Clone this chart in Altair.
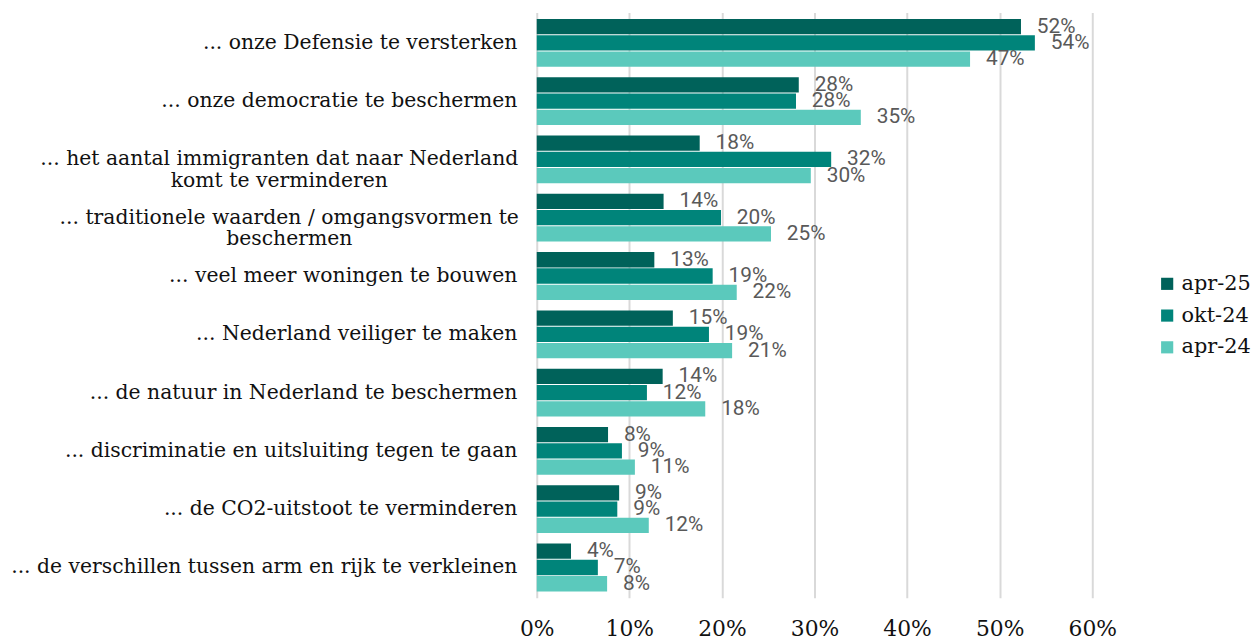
import altair as alt
import pandas as pd

categories = [
    "... onze Defensie te versterken",
    "... onze democratie te beschermen",
    "... het aantal immigranten dat naar Nederland|komt te verminderen",
    "... traditionele waarden / omgangsvormen te|beschermen",
    "... veel meer woningen te bouwen",
    "... Nederland veiliger te maken",
    "... de natuur in Nederland te beschermen",
    "... discriminatie en uitsluiting tegen te gaan",
    "... de CO2-uitstoot te verminderen",
    "... de verschillen tussen arm en rijk te verkleinen",
]
series = ["apr-25", "okt-24", "apr-24"]
apr25 = [52.3, 28.3, 17.6, 13.7, 12.7, 14.7, 13.6, 7.7, 8.9, 3.7]
okt24 = [53.8, 28.0, 31.8, 19.9, 19.0, 18.6, 11.9, 9.2, 8.7, 6.6]
apr24 = [46.8, 35.0, 29.6, 25.3, 21.6, 21.1, 18.2, 10.6, 12.1, 7.6]
colors = ["#00625a", "#00847a", "#5bc9bc"]
ticks = [0, 10, 20, 30, 40, 50, 60]

rows = []
for name, vals in zip(series, [apr25, okt24, apr24]):
    for c, v in zip(categories, vals):
        rows.append({"category": c, "series": name, "value": v})
df = pd.DataFrame(rows)

base = alt.Chart(df).transform_calculate(
    label="format(datum.value, '.0f') + '%'"
)

y_enc = alt.Y(
    "category:N",
    sort=categories,
    scale=alt.Scale(paddingInner=0.18, paddingOuter=0.11),
    axis=alt.Axis(
        title=None,
        domain=False,
        ticks=False,
        labelFont="DejaVu Serif",
        labelFontSize=20.5,
        labelColor="#111111",
        labelLimit=0,
        labelLineHeight=22,
        labelPadding={"condition": [
            {"test": "indexof(datum.label, 'immigranten') >= 0", "value": 260},
            {"test": "indexof(datum.label, 'traditionele') >= 0", "value": 250},
        ], "value": 20},
        labelAlign={"condition": {"test": "indexof(datum.label, '|') >= 0", "value": "center"}, "value": "right"},
        labelExpr="split(datum.label, '|')",
    ),
)
x_enc = alt.X(
    "value:Q",
    scale=alt.Scale(domain=[0, 60]),
    axis=alt.Axis(
        title=None,
        values=ticks,
        labelExpr="datum.value + '%'",
        domain=False,
        ticks=False,
        grid=True,
        gridColor="#d9d9d9",
        gridWidth=2,
        labelFont="DejaVu Serif",
        labelFontSize=22,
        labelColor="#111111",
        labelPadding=21,
        labelFlush=False,
    ),
)
yoff = alt.YOffset("series:N", sort=series, scale=alt.Scale(paddingInner=0.06))

bars = base.mark_bar().encode(
    x=x_enc,
    y=y_enc,
    yOffset=yoff,
    color=alt.Color(
        "series:N",
        sort=series,
        scale=alt.Scale(domain=series, range=colors),
        legend=alt.Legend(
            title=None,
            orient="none",
            legendX=625,
            legendY=263,
            symbolType="square",
            symbolSize=150,
            symbolStrokeWidth=0,
            labelFont="DejaVu Serif",
            labelFontSize=21,
            labelColor="#111111",
            labelLimit=0,
            labelOffset=4,
            rowPadding=10,
            padding=0,
        ),
    ),
)

text = base.mark_text(
    align="left", baseline="middle", dx=16, font="Roboto", fontSize=21, color="#595959"
).encode(
    x="value:Q",
    y=alt.Y("category:N", sort=categories),
    yOffset=alt.YOffset("series:N", sort=series),
    text="label:N",
)

chart = alt.layer(bars, text).properties(
    width=560,
    height=590,
    padding={"left": 2, "top": 2, "right": 0, "bottom": 0},
).configure_view(stroke=None)

chart.save("out.html", embed_options={"renderer": "svg", "actions": False})
